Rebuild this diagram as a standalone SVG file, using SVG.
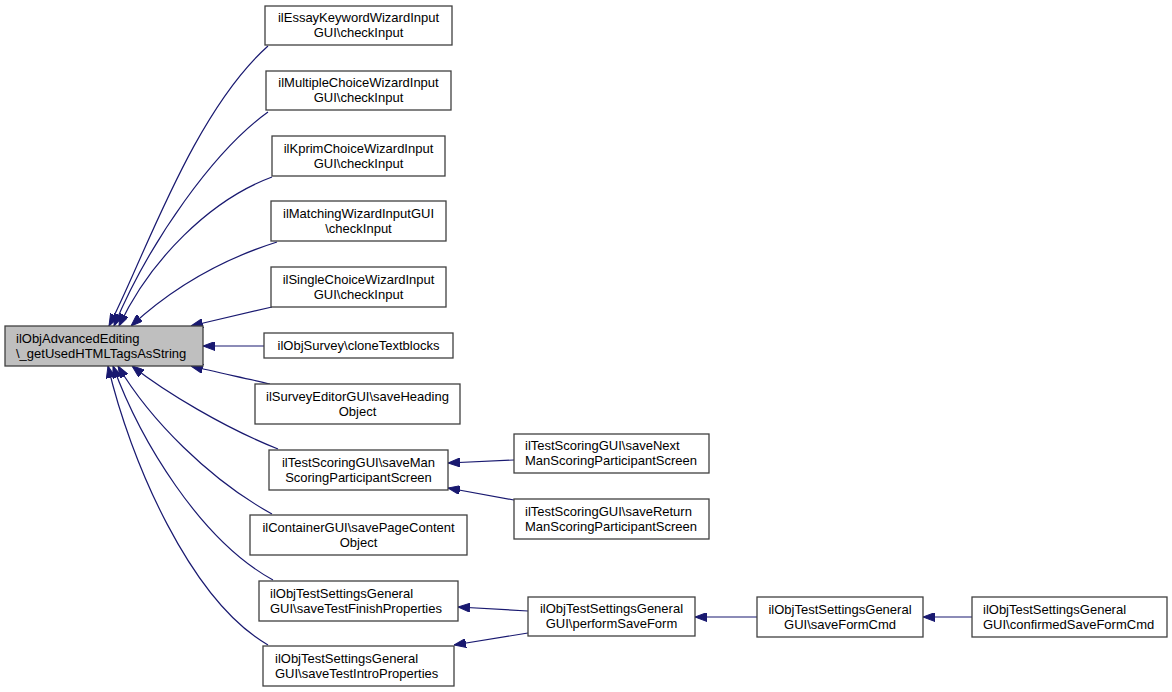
<svg xmlns="http://www.w3.org/2000/svg" width="1172" height="692" viewBox="0 0 1172 692">
<style>
.n rect{fill:#ffffff;stroke:#404040;stroke-width:1.3}
.n.main rect{fill:#bfbfbf}
.n text{font-family:"Liberation Sans",Arial,sans-serif;font-size:13px;fill:#000}
.c{text-anchor:middle}
.e path{fill:none;stroke:#191970;stroke-width:1.2;marker-end:url(#ah)}
</style>
<defs>
<marker id="ah" markerUnits="userSpaceOnUse" viewBox="0 0 12 9" markerWidth="12" markerHeight="9" refX="12" refY="4.5" orient="auto">
<path d="M0,0 L12,4.5 L0,9 z" fill="#191970" stroke="#191970" stroke-width="1"/>
</marker>
</defs>
<rect width="1172" height="692" fill="#ffffff"/>
<g id="edges" class="e">
<path d="M268,46 C192,114 143,261 109,326"/>
<path d="M268,112 C215,150 150,240 114,326"/>
<path d="M272,177 C210,200 150,260 119,326"/>
<path d="M277,242 C220,260 170,290 131,326"/>
<path d="M272,307 C250,312 220,319 191,326"/>
<path d="M264,346 L203,346"/>
<path d="M270,384 C245,378 215,372 191,366"/>
<path d="M278,449 C225,428 165,392 132,366"/>
<path d="M272,514 C210,480 150,420 118,366"/>
<path d="M273,580 C200,540 140,440 113,366"/>
<path d="M268,645 C190,600 130,460 108,366"/>
<path d="M514,460 L448,463"/>
<path d="M514,500 L448,488"/>
<path d="M528,611 L458,607"/>
<path d="M528,633 L454,645"/>
<path d="M757,617 L695,617"/>
<path d="M972,617 L923,617"/>
</g>
<g id="main" class="n main"><rect x="5" y="326" width="198" height="40"/><text x="16" y="342.5">ilObjAdvancedEditing</text><text x="16" y="357.5">\_getUsedHTMLTagsAsString</text></g>
<g id="n1" class="n"><rect x="265" y="6" width="187" height="39"/><text class="c" x="358.5" y="22">ilEssayKeywordWizardInput</text><text class="c" x="358.5" y="37">GUI\checkInput</text></g>
<g id="n2" class="n"><rect x="266" y="71" width="185" height="39"/><text class="c" x="358.5" y="87">ilMultipleChoiceWizardInput</text><text class="c" x="358.5" y="102">GUI\checkInput</text></g>
<g id="n3" class="n"><rect x="272" y="136" width="173" height="40"/><text class="c" x="358.5" y="152.5">ilKprimChoiceWizardInput</text><text class="c" x="358.5" y="167.5">GUI\checkInput</text></g>
<g id="n4" class="n"><rect x="271" y="201" width="175" height="40"/><text class="c" x="358.5" y="217.5">ilMatchingWizardInputGUI</text><text class="c" x="358.5" y="232.5">\checkInput</text></g>
<g id="n5" class="n"><rect x="271" y="267" width="175" height="40"/><text class="c" x="358.5" y="283.5">ilSingleChoiceWizardInput</text><text class="c" x="358.5" y="298.5">GUI\checkInput</text></g>
<g id="n6" class="n"><rect x="264" y="333" width="189" height="25"/><text class="c" x="358.5" y="350">ilObjSurvey\cloneTextblocks</text></g>
<g id="n7" class="n"><rect x="255" y="384" width="205" height="40"/><text class="c" x="357.5" y="400.5">ilSurveyEditorGUI\saveHeading</text><text class="c" x="357.5" y="415.5">Object</text></g>
<g id="n8" class="n"><rect x="269" y="450" width="179" height="40"/><text class="c" x="358.5" y="466.5">ilTestScoringGUI\saveMan</text><text class="c" x="358.5" y="481.5">ScoringParticipantScreen</text></g>
<g id="n9" class="n"><rect x="250" y="515" width="217" height="40"/><text class="c" x="358.5" y="531.5">ilContainerGUI\savePageContent</text><text class="c" x="358.5" y="546.5">Object</text></g>
<g id="n10" class="n"><rect x="259" y="581" width="199" height="40"/><text x="270" y="597.5">ilObjTestSettingsGeneral</text><text x="270" y="612.5">GUI\saveTestFinishProperties</text></g>
<g id="n11" class="n"><rect x="263" y="646" width="191" height="40"/><text x="275" y="662.5">ilObjTestSettingsGeneral</text><text x="275" y="677.5">GUI\saveTestIntroProperties</text></g>
<g id="n12" class="n"><rect x="514" y="434" width="195" height="39"/><text x="525" y="450">ilTestScoringGUI\saveNext</text><text x="525" y="465">ManScoringParticipantScreen</text></g>
<g id="n13" class="n"><rect x="514" y="499" width="195" height="40"/><text x="525" y="515.5">ilTestScoringGUI\saveReturn</text><text x="525" y="530.5">ManScoringParticipantScreen</text></g>
<g id="n14" class="n"><rect x="528" y="597" width="167" height="39"/><text class="c" x="611.5" y="613">ilObjTestSettingsGeneral</text><text class="c" x="611.5" y="628">GUI\performSaveForm</text></g>
<g id="n15" class="n"><rect x="757" y="597" width="166" height="40"/><text class="c" x="840" y="613.5">ilObjTestSettingsGeneral</text><text class="c" x="840" y="628.5">GUI\saveFormCmd</text></g>
<g id="n16" class="n"><rect x="972" y="597" width="195" height="40"/><text x="983" y="613.5">ilObjTestSettingsGeneral</text><text x="983" y="628.5">GUI\confirmedSaveFormCmd</text></g>
</svg>
